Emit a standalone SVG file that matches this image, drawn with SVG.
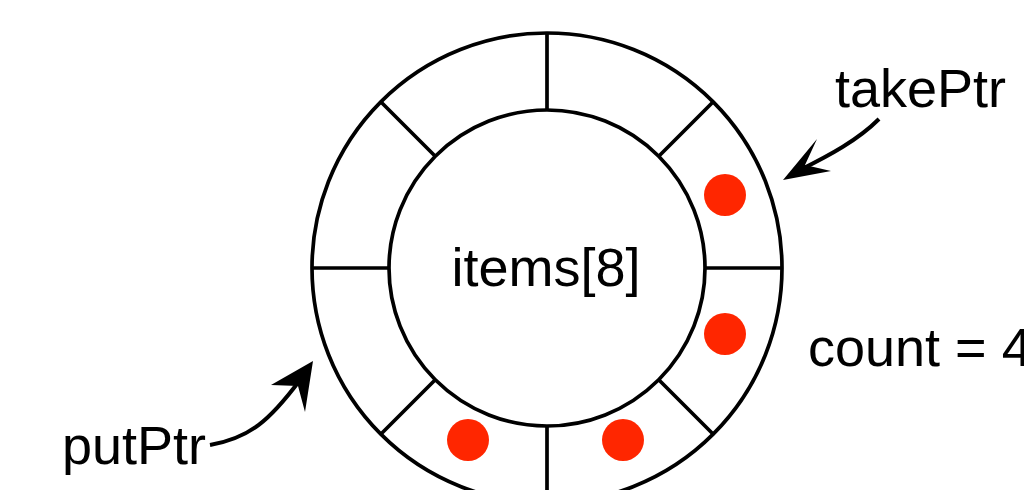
<svg xmlns="http://www.w3.org/2000/svg" width="1024" height="490" viewBox="0 0 1024 490">
<style>
.ln{fill:none;stroke:#000;stroke-width:3.7}
.dot{fill:#ff2600}
.t{font-family:"Liberation Sans",Arial,sans-serif;font-size:54px;fill:#000}
</style>
<rect width="1024" height="490" fill="#fff"/>
<g id="ring">
<circle class="ln" cx="547" cy="268" r="235"/>
<circle class="ln" cx="547" cy="268" r="158"/>
<path class="ln" d="M547,33 V110 M547,426 V503 M312,268 H389 M705,268 H782 M713,102 L659,156 M381,102 L435,156 M713,434 L659,380 M381,434 L435,380"/>
</g>
<g id="dots">
<circle class="dot" cx="725" cy="195" r="21"/>
<circle class="dot" cx="725" cy="334" r="21"/>
<circle class="dot" cx="623" cy="440" r="21"/>
<circle class="dot" cx="468" cy="440" r="21"/>
</g>
<g id="labels">
<text class="t" x="546" y="286" text-anchor="middle">items[8]</text>
<text class="t" x="835" y="107">takePtr</text>
<text class="t" x="808" y="366">count = 4</text>
<text class="t" x="62" y="464">putPtr</text>
</g>
<g id="connectors">
<path d="M879,119 C858,140 830,155 800,170" fill="none" stroke="#000" stroke-width="4"/>
<path d="M783,180 L817,139 L805,165 L831,171 Z" fill="#000"/>
<path d="M210,445 C250,438 270,420 300,380" fill="none" stroke="#000" stroke-width="4"/>
<path d="M313,361 L305,412 L298,386 L271,385 Z" fill="#000"/>
</g>
</svg>
